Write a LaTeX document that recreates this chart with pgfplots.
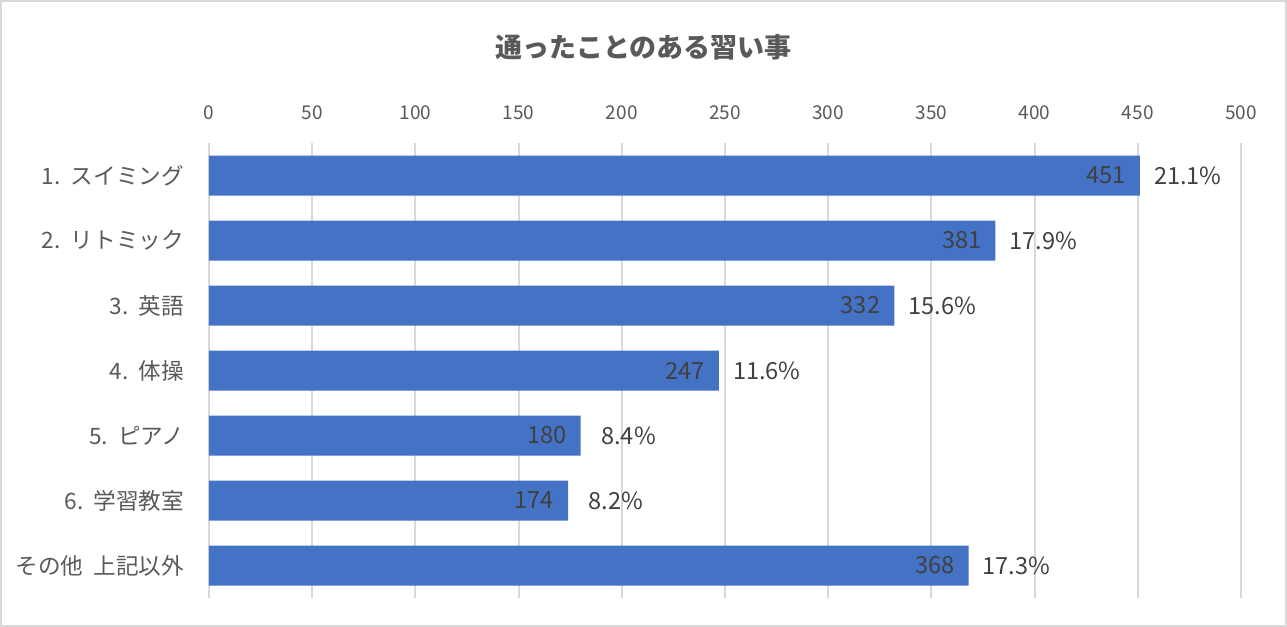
\documentclass[border=0pt]{standalone}
\usepackage{pgfplots}
\pgfplotsset{compat=1.18}
\usepackage{pgfplotstable}
\usepackage{fontspec}
\setmainfont{Noto Sans CJK JP}
\definecolor{barblue}{HTML}{4472C4}
\definecolor{gridgray}{HTML}{D9D9D9}
\definecolor{txtgray}{HTML}{595959}
\definecolor{lblgray}{HTML}{404040}
\pgfplotstableread{
y val pct
0 451 21.1
1 381 17.9
2 332 15.6
3 247 11.6
4 180 8.4
5 174 8.2
6 368 17.3
}\data
\begin{document}
\begin{tikzpicture}[x=1pt,y=1pt]
\useasboundingbox (0,0) rectangle (643.5,313.5);
\draw[gridgray, line width=1pt] (0.5,0.5) rectangle (643,313);
\node[font=\fontsize{13.5}{16}\selectfont\bfseries, text=txtgray] at (321.75,290) {通ったことのある習い事};
\begin{axis}[
  at={(104.5pt,14.5pt)}, anchor=south west,
  scale only axis, width=516pt, height=227.5pt,
  xmin=0, xmax=500, ymin=-0.5, ymax=6.5,
  y dir=reverse,
  xbar, bar width=20pt, bar shift=0pt,
  xtick={0,50,...,500},
  ytick={0,1,2,3,4,5,6},
  yticklabels={1.\ \ スイミング,2.\ \ リトミック,3.\ \ 英語,4.\ \ 体操,5.\ \ ピアノ,6.\ \ 学習教室,その他\ \ 上記以外},
  xticklabel pos=top,
  axis line style={draw=none},
  major tick length=0pt,
  xmajorgrids, grid style={gridgray, line width=1pt},
  /pgf/number format/assume math mode=true,
  xticklabel style={font=\fontsize{9.5}{11}\selectfont, text=txtgray, yshift=8pt},
  yticklabel style={font=\fontsize{11.3}{13}\selectfont, text=txtgray, xshift=-9pt},
  clip=false,
]
\addplot[fill=barblue, draw=none,
  nodes near coords,
  nodes near coords style={anchor=east, xshift=-3.5pt, font=\fontsize{11.8}{13}\selectfont, text=lblgray},
] table[x=val, y=y] {\data};
\addplot[forget plot, fill=none, draw=none,
  point meta=explicit symbolic,
  nodes near coords={\pgfplotspointmeta\%},
  nodes near coords style={anchor=center, xshift=24pt, font=\fontsize{11.8}{13}\selectfont, text=lblgray},
] table[x=val, y=y, meta=pct] {\data};
\end{axis}
\end{tikzpicture}
\end{document}
